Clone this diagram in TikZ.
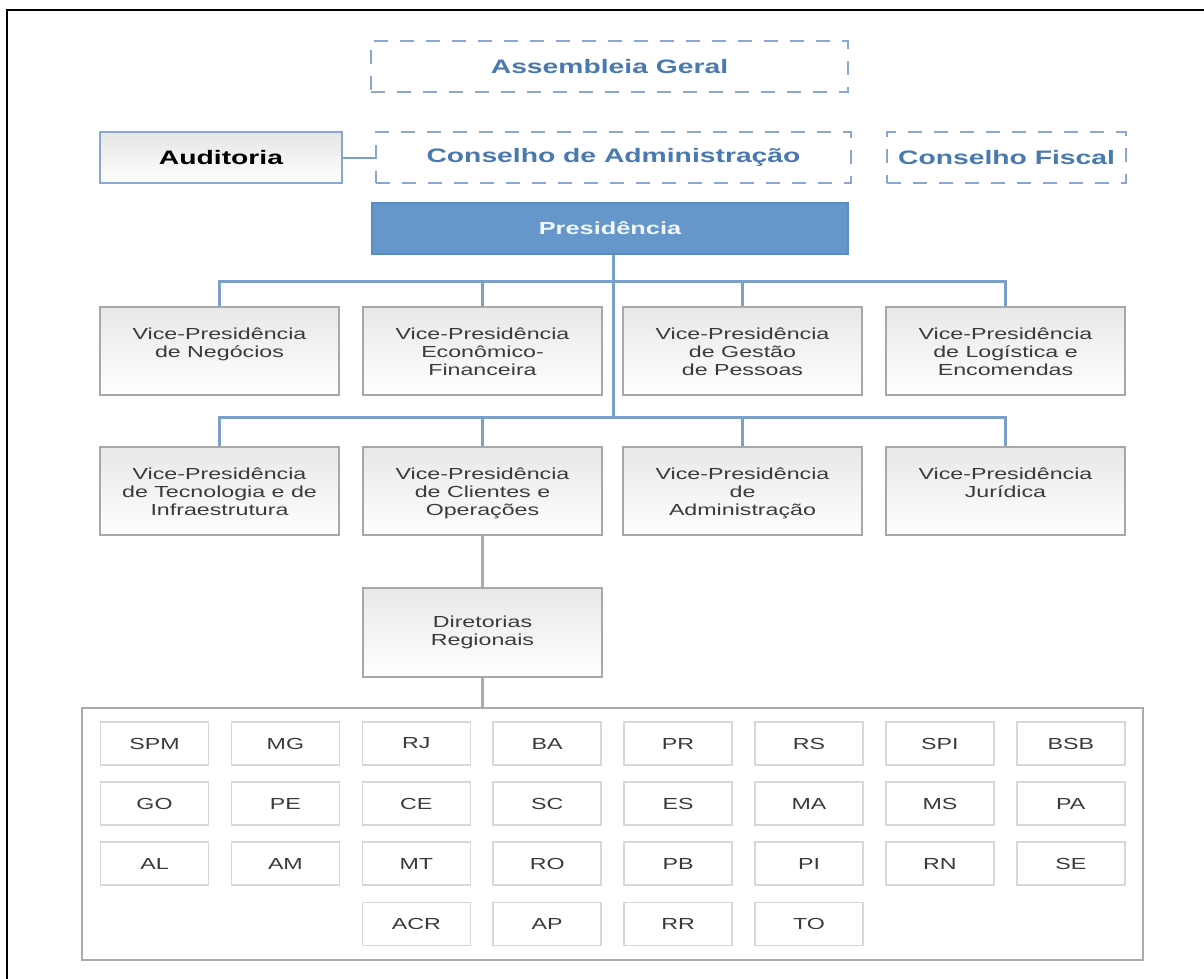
\documentclass[tikz,border=0pt]{standalone}
\usepackage{fontspec}
\setmainfont{Liberation Sans}[FakeStretch=1.45]
\definecolor{bline}{HTML}{7BA0CB}
\definecolor{dashb}{HTML}{8AA8CF}
\definecolor{dasht}{HTML}{4A79B0}
\definecolor{presf}{HTML}{6597CA}
\definecolor{presd}{HTML}{5A8CC0}
\definecolor{vpb}{HTML}{A8A8A8}
\definecolor{vpt}{HTML}{3A3A3A}
\definecolor{smb}{HTML}{D8D8D8}
\definecolor{gline}{HTML}{ABABAB}
\newcommand\fbig{\fontsize{19.5}{22}\selectfont\bfseries}
\newcommand\fpres{\fontsize{17.5}{20}\selectfont\bfseries}
\newcommand\fsmall{\fontsize{16}{18.3}\selectfont}
\begin{document}
\begin{tikzpicture}[x=1pt,y=1pt,
  dashbox/.style={draw=dashb,line width=2pt,dash pattern=on 14pt off 12pt,fill=white,
    text=dasht,font=\fbig,inner sep=0pt,minimum height=51pt},
  audbox/.style={draw=dashb,line width=2pt,top color=black!10,bottom color=white,
    text=black,font=\fbig,inner sep=0pt,minimum height=51pt,minimum width=242pt},
  presbox/.style={draw=presd,line width=1.5pt,fill=presf,text=white!92!presf,font=\fpres,
    inner sep=0pt,minimum width=476pt,minimum height=51pt},
  vpbox/.style={draw=vpb,line width=2pt,top color=black!9,bottom color=white,
    inner sep=0pt,minimum width=239pt,minimum height=88pt},
  vptext/.style={anchor=north,align=center,inner sep=0pt,text=vpt,font=\fsmall},
  conn/.style={draw=bline,line width=3pt},
  gconn/.style={draw=gline,line width=3pt},
  contbox/.style={draw=gline,line width=2pt,fill=white,inner sep=0pt,
    minimum width=1061pt,minimum height=252pt},
  smbox/.style={draw=smb,line width=1.5pt,fill=white,inner sep=0pt,text=vpt,font=\fsmall,
    minimum width=108pt,minimum height=43pt},
  frameline/.style={draw=black,line width=2.5pt}
]
\useasboundingbox (0,0) rectangle (1204,-979);
% frame
\coordinate (fa) at (7,-979);
\coordinate (fb) at (7,-10);
\coordinate (fc) at (1204,-10);
\draw[frameline] (fa) -- (fb) -- (fc);

% top nodes
\node[dashbox,minimum width=477pt] (ag) at (609.5,-67) {Assembleia Geral};
\node[dashbox,minimum width=475pt] (ca) at (613.5,-157.5) {Conselho de Administração};
\node[dashbox,minimum width=239pt] (cf) at (1006.5,-157.5) {Conselho Fiscal};
\node[audbox] (aud) at (221,-157.5) {Auditoria};
\draw[conn,line width=2pt] (aud.east) -- (ca.west);
\node[presbox] (pres) at (610,-228.5) {Presidência};

% VP boxes row 1
\node[vpbox] (v1) at (219.5,-351) {};
\node[vpbox] (v2) at (482.5,-351) {};
\node[vpbox] (v3) at (742.5,-351) {};
\node[vpbox] (v4) at (1005.5,-351) {};
% row 2
\node[vpbox] (w1) at (219.5,-491) {};
\node[vpbox] (w2) at (482.5,-491) {};
\node[vpbox] (w3) at (742.5,-491) {};
\node[vpbox] (w4) at (1005.5,-491) {};

\node[vptext] (t1) at ([yshift=-21.5pt]v1.north) {Vice-Presidência\\de Negócios};
\node[vptext] (t2) at ([yshift=-21.5pt]v2.north) {Vice-Presidência\\Econômico-\\Financeira};
\node[vptext] (t3) at ([yshift=-21.5pt]v3.north) {Vice-Presidência\\de Gestão\\de Pessoas};
\node[vptext] (t4) at ([yshift=-21.5pt]v4.north) {Vice-Presidência\\de Logística e\\Encomendas};
\node[vptext] (u1) at ([yshift=-21.5pt]w1.north) {Vice-Presidência\\de Tecnologia e de\\Infraestrutura};
\node[vptext] (u2) at ([yshift=-21.5pt]w2.north) {Vice-Presidência\\de Clientes e\\Operações};
\node[vptext] (u3) at ([yshift=-21.5pt]w3.north) {Vice-Presidência\\de\\Administração};
\node[vptext] (u4) at ([yshift=-21.5pt]w4.north) {Vice-Presidência\\Jurídica};

% connectors
\coordinate (trunk) at (613,-418);
\draw[conn] (pres.south -| trunk) -- (trunk);
\draw[conn] (v1.north) -- ++(0,25) -| (v4.north);
\draw[conn] (v2.north) -- ++(0,25);
\draw[conn] (v3.north) -- ++(0,25);
\draw[conn] (w1.north) -- ++(0,29) -| (w4.north);
\draw[conn] (w2.north) -- ++(0,29);
\draw[conn] (w3.north) -- ++(0,29);

% Diretorias
\node[vpbox,minimum height=89pt,align=center,text=vpt,font=\fsmall] (dr) at (482.5,-632.5) {Diretorias\\Regionais};
\draw[gconn] (w2.south) -- (dr.north);
\node[contbox] (cont) at (612.5,-834) {};
\draw[gconn] (dr.south) -- (dr.south |- cont.north);

% small boxes
\foreach \lab [count=\i from 0] in {SPM,MG,RJ,BA,PR,RS,SPI,BSB}
  \node[smbox] (r1c\i) at (154.5+130.9*\i,-743.5) {\lab};
\foreach \lab [count=\i from 0] in {GO,PE,CE,SC,ES,MA,MS,PA}
  \node[smbox] (r2c\i) at (154.5+130.9*\i,-803.5) {\lab};
\foreach \lab [count=\i from 0] in {AL,AM,MT,RO,PB,PI,RN,SE}
  \node[smbox] (r3c\i) at (154.5+130.9*\i,-863.5) {\lab};
\foreach \lab [count=\i from 2] in {ACR,AP,RR,TO}
  \node[smbox] (r4c\i) at (154.5+130.9*\i,-924) {\lab};
\end{tikzpicture}
\end{document}
